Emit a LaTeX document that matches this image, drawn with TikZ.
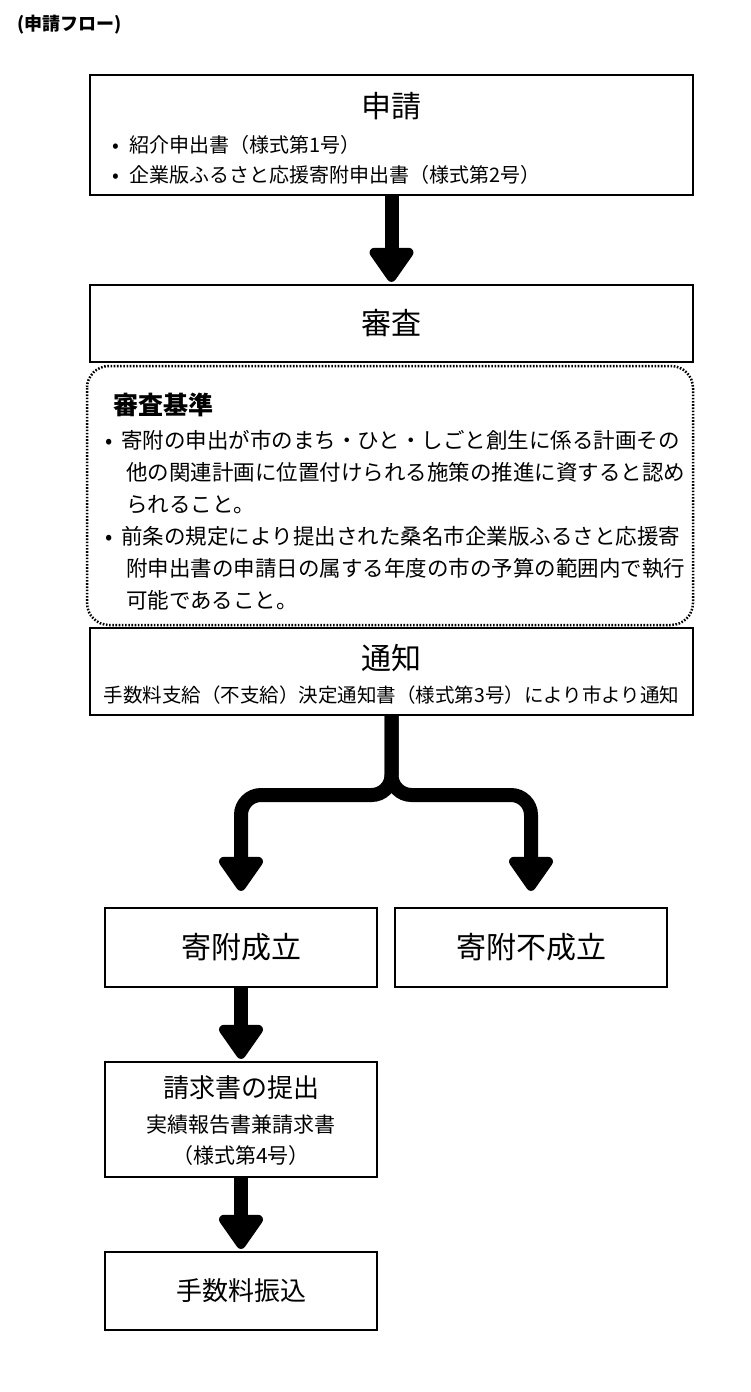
\documentclass[tikz,border=0pt]{standalone}
\usepackage{fontspec}
\setmainfont{Noto Sans CJK JP}
\usetikzlibrary{arrows.meta}
\begin{document}
\begin{tikzpicture}[x=1pt,y=-1pt,
  box/.style={draw,line width=2.2pt,minimum width=#1,inner sep=0pt},
  flow/.style={line width=14pt,-{Triangle[width=50pt,length=38pt,round]},shorten >=16pt},
  f/.style={font=\fontsize{#1}{#1}\selectfont,inner sep=0pt}]
\useasboundingbox (0,0) rectangle (750,1392);
\node[f=18,anchor=west] (title) at (17,25) {\bfseries (申請フロー)};
% box 1
\node[box=603pt,minimum height=120pt] (b1) at (391.5,135) {};
\node[f=30] (t1) at (391.5,106) {申請};
\node[f=20,anchor=west] (l1) at (112,145) {•\hspace{10pt}紹介申出書（様式第1号）};
\node[f=20,anchor=west] (l2) at (112,175) {•\hspace{10pt}企業版ふるさと応援寄附申出書（様式第2号）};
% box 2
\node[box=603pt,minimum height=77pt] (b2) at (391.5,323.5) {};
\node[f=30] (t2) at (391.5,323.5) {審査};
% criteria
\draw[line width=2.5pt,dash pattern=on 1.6pt off 1.6pt,rounded corners=22pt] (87,366) rectangle (693,625);
\node[f=25,anchor=west] (t3) at (113,405) {\bfseries 審査基準};
\node[f=21.5,anchor=north west,align=left,font=\fontsize{21.5}{32}\selectfont] (c1) at (105,430)
 {•\hspace{9pt}寄附の申出が市のまち・ひと・しごと創生に係る計画その\\
  \hspace{21pt}他の関連計画に位置付けられる施策の推進に資すると認め\\
  \hspace{21pt}られること。\\
  •\hspace{9pt}前条の規定により提出された桑名市企業版ふるさと応援寄\\
  \hspace{21pt}附申出書の申請日の属する年度の市の予算の範囲内で執行\\
  \hspace{21pt}可能であること。};
% box 3
\node[box=603pt,minimum height=87pt] (b3) at (391.5,671.5) {};
\node[f=30] (t4) at (391.5,658) {通知};
\node[f=19.5] (t5) at (391.5,695) {手数料支給（不支給）決定通知書（様式第3号）により市より通知};
% result boxes
\node[box=272pt,minimum height=79pt] (b6) at (241,947.5) {};
\node[f=30] at (241,947.5) {寄附成立};
\node[box=272pt,minimum height=79pt] (b7) at (531,947.5) {};
\node[f=30] at (531,947.5) {寄附不成立};
% box 4
\node[box=272pt,minimum height=115pt] (b8) at (241,1119.5) {};
\node[f=26] at (241,1088) {請求書の提出};
\node[f=21] at (241,1125) {実績報告書兼請求書};
\node[f=21] at (241,1156) {（様式第4号）};
% box 5
\node[box=272pt,minimum height=78pt] (b9) at (241,1291) {};
\node[f=26] at (241,1291) {手数料振込};
% arrows
\draw[flow,shorten >=2pt] (b1.south) -- (b2.north);
\coordinate (fl) at (241,795);
\coordinate (fr) at (531,795);
\coordinate (fm) at (391.5,795);
\draw[flow,rounded corners=20pt] (b3.south) -- (fm) -- (fl) -- (b6.north);
\draw[flow,rounded corners=20pt] (b3.south) -- (fm) -- (fr) -- (b7.north);
\draw[flow,shorten >=2pt] (b6.south) -- (b8.north);
\draw[flow,shorten >=2pt] (b8.south) -- (b9.north);
\end{tikzpicture}
\end{document}
